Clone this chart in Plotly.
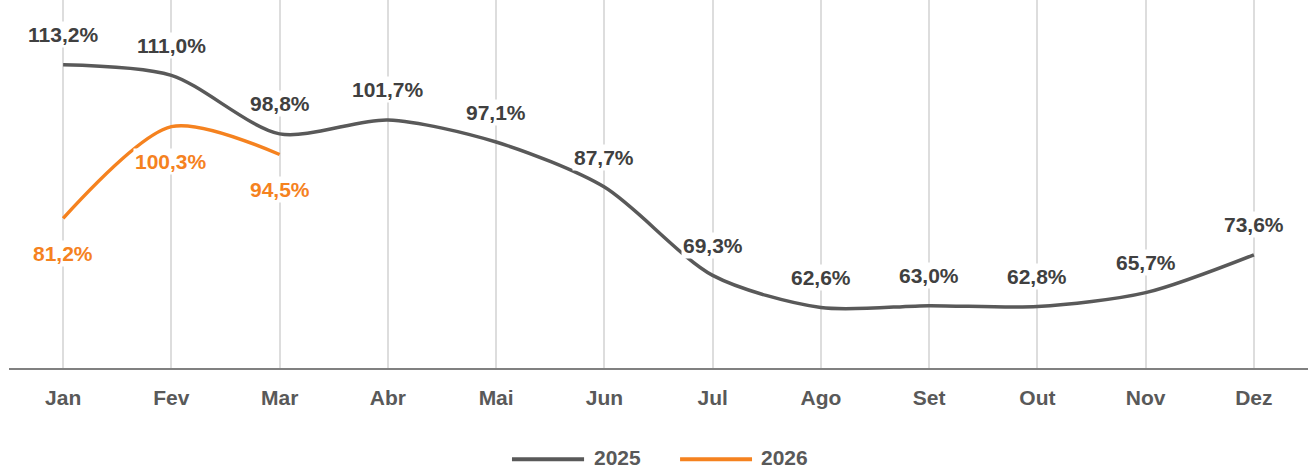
import plotly.graph_objects as go

months = ["Jan", "Fev", "Mar", "Abr", "Mai", "Jun", "Jul", "Ago", "Set", "Out", "Nov", "Dez"]
s2025 = [113.2, 111.0, 98.8, 101.7, 97.1, 87.7, 69.3, 62.6, 63.0, 62.8, 65.7, 73.6]
months_2026 = ["Jan", "Fev", "Mar"]
s2026 = [81.2, 100.3, 94.5]

GRAY = "#595959"
LABEL_GRAY = "#404040"
ORANGE = "#F5821F"
FONT = "Liberation Sans, Arial, sans-serif"

def fmt(v):
    return f"{v:.1f}%".replace(".", ",")

fig = go.Figure()
fig.add_trace(go.Scatter(x=months, y=s2025, mode="lines", name="2025",
                         line=dict(color=GRAY, width=3.5, shape="spline", smoothing=0.8)))
fig.add_trace(go.Scatter(x=months_2026, y=s2026, mode="lines", name="2026",
                         line=dict(color=ORANGE, width=3.5, shape="spline", smoothing=0.8)))

annotations = []
for m, v in zip(months, s2025):
    annotations.append(dict(x=m, y=v, xref="x", yref="y", text=fmt(v), showarrow=False,
                            yshift=30, bgcolor="white", borderpad=1,
                            font=dict(family=FONT, size=21, color=LABEL_GRAY, weight="bold")))
for m, v in zip(months_2026, s2026):
    annotations.append(dict(x=m, y=v, xref="x", yref="y", text=fmt(v), showarrow=False,
                            yshift=-35, bgcolor="white", borderpad=1,
                            font=dict(family=FONT, size=21, color=ORANGE, weight="bold")))

# custom legend
legend_items = [("2025", GRAY, 0.3872, 0.4427, 0.4496), ("2026", ORANGE, 0.5166, 0.5720, 0.5781)]
shapes = []
for name, col, x0, x1, xt in legend_items:
    shapes.append(dict(type="line", xref="paper", yref="paper", x0=x0, x1=x1,
                       y0=-0.248, y1=-0.248, line=dict(color=col, width=4)))
    annotations.append(dict(x=xt, y=-0.243, xref="paper", yref="paper", text=name,
                            showarrow=False, xanchor="left", yanchor="middle", borderpad=0,
                            font=dict(family=FONT, size=21, color=GRAY, weight="bold")))

fig.update_layout(
    width=1316, height=468,
    margin=dict(l=9, r=8, t=0, b=100),
    plot_bgcolor="white", paper_bgcolor="white",
    showlegend=False,
    annotations=annotations,
    shapes=shapes,
    xaxis=dict(type="category", categoryorder="array", categoryarray=months,
               range=[-0.5, 11.5], showgrid=True, gridcolor="#DDDDDD", gridwidth=1.5,
               showline=True, linecolor="#808080", linewidth=2, ticks="",
               ticklabelstandoff=10,
               tickfont=dict(family=FONT, size=21, color=GRAY, weight="bold")),
    yaxis=dict(range=[50, 126.7], showgrid=False, zeroline=False, showticklabels=False,
               showline=False),
)

fig.write_html("out.html", config={"displayModeBar": False},
               post_script="document.body.style.margin='0';document.body.style.overflow='hidden';")
